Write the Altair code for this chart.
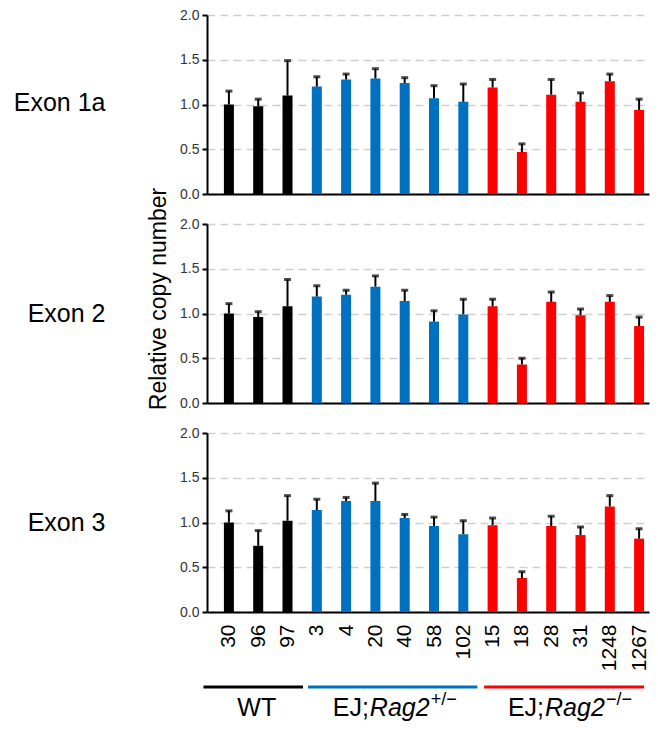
import json
import altair as alt
import pandas as pd

FONT = "Liberation Sans"

# ---- data ----
samples = ["30", "96", "97", "3", "4", "20", "40", "58", "102", "15", "18", "28", "31", "1248", "1267"]
genotype = ["WT"] * 3 + ["het"] * 6 + ["ko"] * 6
genotype_colors = {"WT": "#000000", "het": "#0070C0", "ko": "#FF0000"}

exon_names = ["Exon 1a", "Exon 2", "Exon 3"]
exon1a_mean = [1.00, 0.98, 1.10, 1.20, 1.28, 1.29, 1.24, 1.07, 1.03, 1.19, 0.47, 1.11, 1.03, 1.26, 0.94]
exon1a_err = [0.15, 0.08, 0.39, 0.11, 0.06, 0.11, 0.06, 0.14, 0.20, 0.09, 0.09, 0.17, 0.10, 0.08, 0.12]
exon2_mean = [1.00, 0.96, 1.08, 1.19, 1.21, 1.30, 1.14, 0.91, 0.99, 1.08, 0.43, 1.13, 0.98, 1.13, 0.86]
exon2_err = [0.11, 0.06, 0.30, 0.12, 0.05, 0.12, 0.12, 0.12, 0.17, 0.08, 0.07, 0.11, 0.07, 0.07, 0.10]
exon3_mean = [1.00, 0.74, 1.02, 1.14, 1.24, 1.24, 1.05, 0.96, 0.87, 0.97, 0.38, 0.96, 0.86, 1.18, 0.82]
exon3_err = [0.13, 0.17, 0.28, 0.12, 0.04, 0.20, 0.04, 0.10, 0.15, 0.08, 0.07, 0.11, 0.09, 0.12, 0.11]

y_ticks = [0, 0.5, 1.0, 1.5, 2.0]
y_title = "Relative copy number"

# group annotation (positions in sample-index units)
group_start = [-0.87, 2.70, 8.71]
group_end = [2.53, 8.48, 14.17]
group_colors = ["#000000", "#0070C0", "#FF0000"]
wt_label = ["WT"]
wt_label_x = [0.95]
geno_prefix = ["EJ;", "EJ;"]
geno_gene = ["Rag2", "Rag2"]
geno_sup = ["+/\u2212", "\u2212/\u2212"]
geno_x = [4.81, 10.79]

# ---- layout constants ----
W, H = 442, 179
X_DOMAIN = [-0.577, 14.167]
label_expr = "%s[datum.value]" % json.dumps(samples)


def make_panel(mean, err, exon, title_y, show_labels, extra_layers=()):
    df = pd.DataFrame({
        "idx": list(range(len(samples))),
        "sample": samples,
        "mean": mean,
        "upper": [m + e for m, e in zip(mean, err)],
        "color": [genotype_colors[g] for g in genotype],
    })
    xscale = alt.Scale(domain=X_DOMAIN, nice=False, zero=False)
    xaxis = alt.Axis(
        values=list(range(len(samples))), labelExpr=label_expr, labels=show_labels,
        ticks=False, grid=False, domain=True, domainColor="black", domainWidth=2,
        labelAngle=270, labelAlign="right", labelBaseline="middle", labelFontSize=21,
        labelColor="black", labelPadding=12, labelFont=FONT, title=None,
    )
    yscale = alt.Scale(domain=[0, 2], nice=False, zero=True)
    yaxis = alt.Axis(
        values=y_ticks, format=".1f", grid=True, gridDash=[8, 5], gridColor="#cfcfcf",
        gridWidth=1.5, domainColor="black", domainWidth=2, tickColor="black", tickWidth=2,
        tickSize=5, labelFontSize=14, labelColor="#333333", labelPadding=3, labelFont=FONT,
        title=exon, titleAngle=0, titleAlign="right", titleBaseline="middle",
        titleX=-102, titleY=title_y, titleFontSize=25, titleFontWeight="normal",
        titleColor="black", titleFont=FONT,
    )
    base = alt.Chart(df)
    bars = base.mark_bar(size=10).encode(
        x=alt.X("idx:Q", scale=xscale, axis=xaxis),
        y=alt.Y("mean:Q", scale=yscale, axis=yaxis),
        color=alt.Color("color:N", scale=None),
    )
    rules = base.mark_rule(color="black", strokeWidth=2).encode(
        x=alt.X("idx:Q", scale=xscale, axis=xaxis),
        y=alt.Y("mean:Q", scale=yscale, axis=yaxis),
        y2="upper:Q",
    )
    caps = base.mark_tick(orient="horizontal", size=7, thickness=3, color="black").encode(
        x=alt.X("idx:Q", scale=xscale, axis=xaxis),
        y=alt.Y("upper:Q", scale=yscale, axis=yaxis),
    )
    layers = [bars, rules, caps] + [f(xscale, xaxis) for f in extra_layers]
    return alt.layer(*layers).properties(width=W, height=H)


def ytitle_layer(xscale, xaxis):
    return alt.Chart(pd.DataFrame({"t": [y_title]})).mark_text(
        angle=270, fontSize=23, font=FONT, color="black", align="center", baseline="middle"
    ).encode(text="t:N", x=alt.value(-48), y=alt.value(75))


def group_rules(xscale, xaxis):
    df = pd.DataFrame({"start": group_start, "end": group_end, "color": group_colors})
    return alt.Chart(df).mark_rule(strokeWidth=3).encode(
        x=alt.X("start:Q", scale=xscale, axis=xaxis), x2="end:Q",
        y=alt.value(254), color=alt.Color("color:N", scale=None),
    )


GROUP_BASE = 283


def wt_text(xscale, xaxis):
    df = pd.DataFrame({"t": wt_label, "x": wt_label_x})
    return alt.Chart(df).mark_text(
        fontSize=25, font=FONT, color="black", align="center", baseline="alphabetic"
    ).encode(x=alt.X("x:Q", scale=xscale, axis=xaxis), y=alt.value(GROUP_BASE), text="t:N")


def prefix_text(xscale, xaxis):
    df = pd.DataFrame({"t": geno_prefix, "x": geno_x})
    return alt.Chart(df).mark_text(
        fontSize=25, font=FONT, color="black", align="right", baseline="alphabetic", dx=-1
    ).encode(x=alt.X("x:Q", scale=xscale, axis=xaxis), y=alt.value(GROUP_BASE), text="t:N")


def gene_text(xscale, xaxis):
    df = pd.DataFrame({"t": geno_gene, "x": geno_x})
    return alt.Chart(df).mark_text(
        fontSize=25, font=FONT, fontStyle="italic", color="black", align="left", baseline="alphabetic"
    ).encode(x=alt.X("x:Q", scale=xscale, axis=xaxis), y=alt.value(GROUP_BASE), text="t:N")


def sup_text(xscale, xaxis):
    df = pd.DataFrame({"t": geno_sup, "x": geno_x})
    return alt.Chart(df).mark_text(
        fontSize=18, font=FONT, color="black", align="left", baseline="alphabetic", dx=61
    ).encode(x=alt.X("x:Q", scale=xscale, axis=xaxis), y=alt.value(GROUP_BASE - 11), text="t:N")


p1 = make_panel(exon1a_mean, exon1a_err, exon_names[0], 87, False)
p2 = make_panel(exon2_mean, exon2_err, exon_names[1], 89.5, False, [ytitle_layer])
p3 = make_panel(exon3_mean, exon3_err, exon_names[2], 89, True,
                [group_rules, wt_text, prefix_text, gene_text, sup_text])

chart = alt.vconcat(p1, p2, p3, spacing=30, bounds="flush").properties(
    padding={"left": 5, "top": 0, "right": 0, "bottom": 0}
).configure_view(stroke=None)

chart.save("out.html", embed_options={"renderer": "svg", "actions": False})
